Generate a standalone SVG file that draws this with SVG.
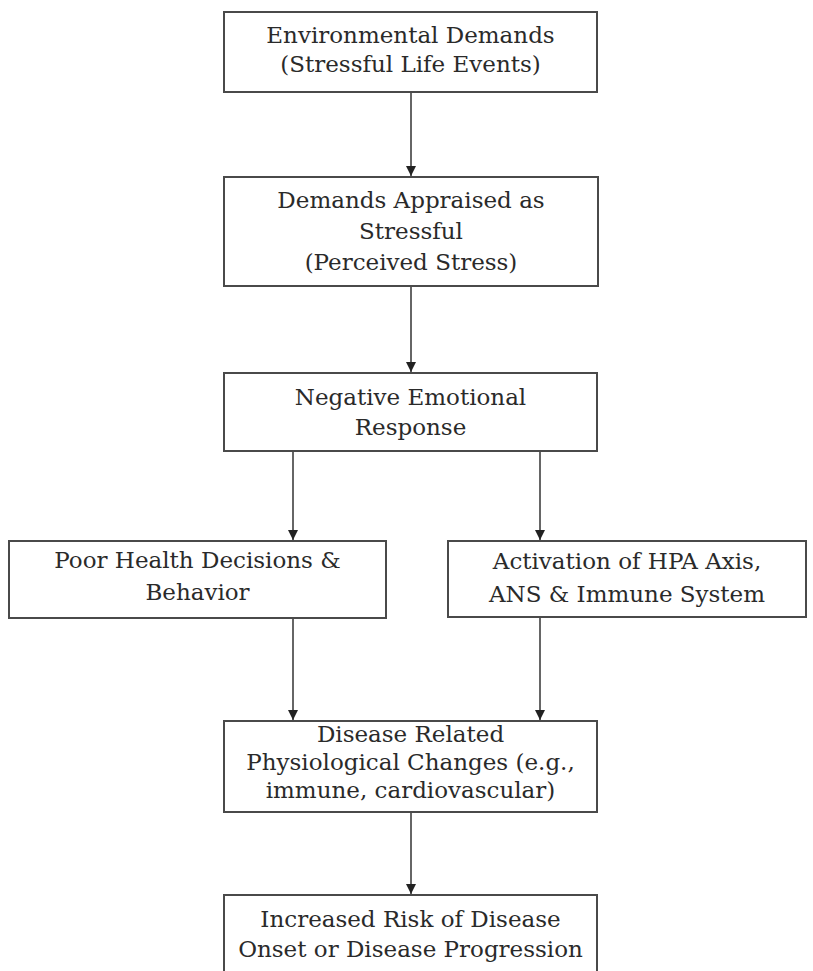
<svg xmlns="http://www.w3.org/2000/svg" width="813" height="971" viewBox="0 0 813 971">
<style>
.box{fill:#fff;stroke:#4a4a4a;stroke-width:2}
.t{font-family:"DejaVu Serif","Liberation Serif",serif;font-size:23px;fill:#2a2a2a;text-anchor:middle}
.c{stroke:#333;stroke-width:1.5;fill:none;marker-end:url(#ah)}
</style>
<defs>
<marker id="ah" viewBox="0 0 10 10" refX="10" refY="5" markerWidth="10" markerHeight="10" markerUnits="userSpaceOnUse" orient="auto">
<path d="M0,0 L10,5 L0,10 z" fill="#222"/>
</marker>
</defs>
<rect width="813" height="971" fill="#fff"/>
<g id="connectors">
<line class="c" x1="411" y1="92" x2="411" y2="176"/>
<line class="c" x1="411" y1="286" x2="411" y2="372"/>
<line class="c" x1="293" y1="451" x2="293" y2="540"/>
<line class="c" x1="540" y1="451" x2="540" y2="540"/>
<line class="c" x1="293" y1="618" x2="293" y2="720"/>
<line class="c" x1="540" y1="617" x2="540" y2="720"/>
<line class="c" x1="411" y1="812" x2="411" y2="894"/>
</g>
<g id="n1">
<rect class="box" x="224" y="12" width="373" height="80"/>
<text class="t" x="410.5" y="43">Environmental Demands</text>
<text class="t" x="410.5" y="72">(Stressful Life Events)</text>
</g>
<g id="n2">
<rect class="box" x="224" y="177" width="374" height="109"/>
<text class="t" x="411" y="208">Demands Appraised as</text>
<text class="t" x="411" y="239">Stressful</text>
<text class="t" x="411" y="270">(Perceived Stress)</text>
</g>
<g id="n3">
<rect class="box" x="224" y="373" width="373" height="78"/>
<text class="t" x="410.5" y="405">Negative Emotional</text>
<text class="t" x="410.5" y="435">Response</text>
</g>
<g id="n4">
<rect class="box" x="9" y="541" width="377" height="77"/>
<text class="t" x="197.5" y="568">Poor Health Decisions &amp;</text>
<text class="t" x="197.5" y="600">Behavior</text>
</g>
<g id="n5">
<rect class="box" x="448" y="541" width="358" height="76"/>
<text class="t" x="627" y="569">Activation of HPA Axis,</text>
<text class="t" x="627" y="602">ANS &amp; Immune System</text>
</g>
<g id="n6">
<rect class="box" x="224" y="721" width="373" height="91"/>
<text class="t" x="410.5" y="742">Disease Related</text>
<text class="t" x="410.5" y="770">Physiological Changes (e.g.,</text>
<text class="t" x="410.5" y="798">immune, cardiovascular)</text>
</g>
<g id="n7">
<rect class="box" x="224" y="895" width="373" height="90"/>
<text class="t" x="410.5" y="927">Increased Risk of Disease</text>
<text class="t" x="410.5" y="957">Onset or Disease Progression</text>
</g>
</svg>
